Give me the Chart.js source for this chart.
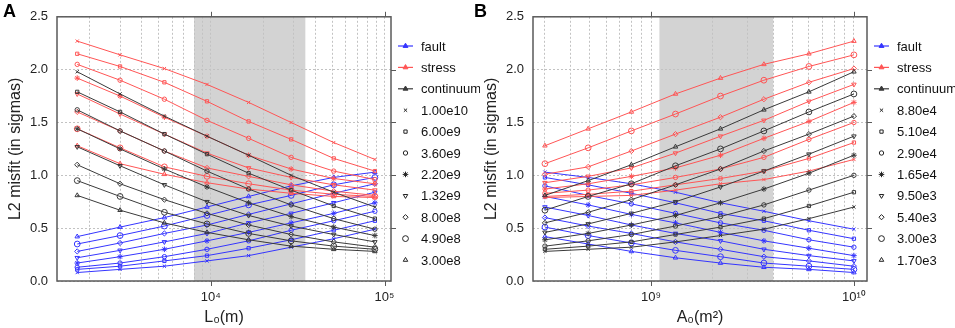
<!DOCTYPE html>
<html>
<head>
<meta charset="utf-8">
<title>L2 misfit</title>
<script src="https://cdn.jsdelivr.net/npm/chart.js@4.4.0/dist/chart.umd.min.js"></script>
<style>
    body { margin: 0; background: #fff; width: 955px; height: 328px; overflow: hidden; position: relative;
           font-family: "Liberation Sans", Arial, sans-serif; }
    .panel { position: absolute; top: 0; width: 480px; height: 328px; }
    .letter { position: absolute; top: 1px; font-weight: bold; font-size: 18px; color: #000; }
</style>
</head>
<body>
<div class="panel" style="left:0"><canvas id="chartA" width="480" height="328"></canvas></div>
<div class="panel" style="left:476px"><canvas id="chartB" width="480" height="328"></canvas></div>
<div class="letter" style="left:3px">A</div>
<div class="letter" style="left:474px">B</div>
<script>
"use strict"

// --------------------------------------------------------------------------------
// data: one misfit grid per model, rows = A0 index, columns = L0 index
let a0Values = [3.00e8, 4.90e8, 8.00e8, 1.32e9, 2.20e9, 3.60e9, 6.00e9, 1.00e10]
let a0Labels = ['3.00e8', '4.90e8', '8.00e8', '1.32e9', '2.20e9', '3.60e9', '6.00e9', '1.00e10']
let l0Values = [1.70e3, 3.00e3, 5.40e3, 9.50e3, 1.65e4, 2.90e4, 5.10e4, 8.80e4]
let l0Labels = ['1.70e3', '3.00e3', '5.40e3', '9.50e3', '1.65e4', '2.90e4', '5.10e4', '8.80e4']

let modelNames = ['fault', 'stress', 'continuum']

let faultMisfit = [
    [0.42, 0.51, 0.60, 0.70, 0.80, 0.90, 0.98, 1.03],
    [0.35, 0.43, 0.52, 0.62, 0.72, 0.81, 0.91, 0.98],
    [0.28, 0.36, 0.45, 0.53, 0.63, 0.73, 0.83, 0.92],
    [0.22, 0.29, 0.37, 0.45, 0.55, 0.64, 0.74, 0.84],
    [0.17, 0.23, 0.30, 0.38, 0.46, 0.55, 0.64, 0.74],
    [0.13, 0.17, 0.23, 0.30, 0.38, 0.48, 0.57, 0.66],
    [0.11, 0.14, 0.19, 0.24, 0.31, 0.39, 0.48, 0.57],
    [0.08, 0.11, 0.14, 0.19, 0.24, 0.32, 0.40, 0.49]
]
let stressMisfit = [
    [1.28, 1.11, 1.01, 0.93, 0.87, 0.83, 0.80, 0.79],
    [1.44, 1.26, 1.08, 0.99, 0.92, 0.86, 0.82, 0.80],
    [1.60, 1.42, 1.23, 1.07, 0.99, 0.91, 0.85, 0.81],
    [1.77, 1.58, 1.39, 1.21, 1.07, 0.98, 0.91, 0.86],
    [1.92, 1.75, 1.55, 1.37, 1.19, 1.06, 0.97, 0.92],
    [2.05, 1.90, 1.72, 1.52, 1.35, 1.17, 1.04, 0.96],
    [2.15, 2.03, 1.88, 1.70, 1.51, 1.34, 1.16, 1.04],
    [2.27, 2.14, 2.01, 1.86, 1.69, 1.50, 1.31, 1.15]
]
let continuumMisfit = [
    [0.81, 0.67, 0.55, 0.46, 0.39, 0.33, 0.30, 0.28],
    [0.95, 0.80, 0.65, 0.54, 0.45, 0.38, 0.33, 0.30],
    [1.10, 0.92, 0.77, 0.64, 0.53, 0.44, 0.37, 0.32],
    [1.27, 1.09, 0.91, 0.75, 0.62, 0.52, 0.44, 0.37],
    [1.44, 1.25, 1.06, 0.89, 0.74, 0.61, 0.51, 0.43],
    [1.62, 1.42, 1.23, 1.04, 0.87, 0.72, 0.59, 0.49],
    [1.79, 1.60, 1.39, 1.20, 1.02, 0.86, 0.71, 0.59],
    [1.98, 1.77, 1.56, 1.37, 1.19, 1.00, 0.84, 0.70]
]

// preferred ranges (shaded)
let bandA = [8.0e3, 3.5e4]
let bandB = [1.1e9, 4.0e9]

// --------------------------------------------------------------------------------
// styles
let modelColors = ['#3535ff', '#ff5555', '#3a3a3a']
let markerStyles = ['triangle', 'circle', 'rectRot', 'triangle', 'star', 'circle', 'rect', 'crossRot']
let markerRotation = [0, 0, 0, 180, 0, 0, 0, 0]
let markerRadius = [2.6, 2.9, 2.6, 2.6, 2.8, 2.2, 2.3, 2.3]
let fontFamily = '"Liberation Sans", Arial, sans-serif'

// log grid values (1..9 x 10^k) inside the axis range
function logGrid(min, max) {
    let vals = []
    for (let k = Math.floor(Math.log10(min)); k <= Math.ceil(Math.log10(max)); k++) {
        for (let m = 1; m <= 9; m++) {
            let v = m * Math.pow(10, k)
            if (v >= min && v <= max) vals.push(v)
        }
    }
    return vals
}

function isDecade(v) {
    let l = Math.log10(v)
    return Math.abs(l - Math.round(l)) < 1e-9
}

let supDigits = {'0': '⁰', '1': '¹', '2': '²', '3': '³', '4': '⁴', '5': '⁵', '6': '⁶', '7': '⁷', '8': '⁸', '9': '⁹'}
function powerLabel(v) {
    let e = String(Math.round(Math.log10(v)))
    return '10' + e.split('').map(c => supDigits[c]).join('')
}

// --------------------------------------------------------------------------------
// plugins: shaded band, frame, side legend
const bandPlugin = {
    id: 'band',
    beforeDraw(chart, args, opts) {
        let xs = chart.scales.x, area = chart.chartArea, ctx = chart.ctx
        let x1 = xs.getPixelForValue(opts.from)
        let x2 = xs.getPixelForValue(opts.to)
        ctx.save()
        ctx.fillStyle = '#d3d3d3'
        ctx.fillRect(x1, area.top, x2 - x1, area.bottom - area.top)
        ctx.restore()
    }
}

const framePlugin = {
    id: 'frame',
    afterDraw(chart) {
        let area = chart.chartArea, ctx = chart.ctx
        let xs = chart.scales.x, ys = chart.scales.y
        ctx.save()
        ctx.strokeStyle = '#5a5a5a'
        ctx.lineWidth = 1.5
        ctx.strokeRect(area.left, area.top, area.right - area.left, area.bottom - area.top)
        ctx.lineWidth = 1
        ctx.beginPath()
        xs.ticks.forEach(t => {
            if (!isDecade(t.value)) return
            let x = Math.round(xs.getPixelForValue(t.value)) + 0.5
            ctx.moveTo(x, area.bottom); ctx.lineTo(x, area.bottom + 5)
            ctx.moveTo(x, area.top); ctx.lineTo(x, area.top - 5)
        })
        for (let v = 0.5; v < 2.5; v += 0.5) {
            let y = Math.round(ys.getPixelForValue(v)) + 0.5
            ctx.moveTo(area.right, y); ctx.lineTo(area.right + 5, y)
        }
        ctx.stroke()
        ctx.restore()
    }
}

const sideLegendPlugin = {
    id: 'sideLegend',
    afterDraw(chart, args, opts) {
        let ctx = chart.ctx
        let x0 = chart.chartArea.right + 7
        let rowY = r => 46 + r * 21.4
        ctx.save()
        ctx.font = '13px ' + fontFamily
        ctx.textBaseline = 'middle'
        let row = 0
        for (let m = 0; m < modelNames.length; m++) {
            let y = rowY(row++)
            ctx.strokeStyle = modelColors[m]
            ctx.fillStyle = modelColors[m]
            ctx.lineWidth = 1.2
            ctx.beginPath(); ctx.moveTo(x0, y); ctx.lineTo(x0 + 15, y); ctx.stroke()
            ctx.lineWidth = 1
            Chart.helpers.drawPoint(ctx, {pointStyle: 'triangle', radius: 2.8, rotation: 0, borderWidth: 1}, x0 + 7.5, y)
            ctx.fillStyle = '#111'
            ctx.fillText(modelNames[m], x0 + 23, y + 1)
        }
        for (let k = opts.labels.length - 1; k >= 0; k--) {
            let y = rowY(row++)
            ctx.strokeStyle = '#222'
            ctx.fillStyle = markerStyles[k] === 'star' ? '#222' : 'rgba(0,0,0,0)'
            ctx.lineWidth = 1
            Chart.helpers.drawPoint(ctx, {pointStyle: markerStyles[k], radius: markerRadius[k],
                rotation: markerRotation[k], borderWidth: 1}, x0 + 7.5, y)
            ctx.fillStyle = '#111'
            ctx.fillText(opts.labels[k], x0 + 23, y + 1)
        }
        ctx.restore()
    }
}

// --------------------------------------------------------------------------------
// build the 24 series of one panel
function buildDatasets(xVals, seriesCount, valueAt) {
    let grids = [faultMisfit, stressMisfit, continuumMisfit]
    let sets = []
    // draw continuum first, fault on top
    for (let m = grids.length - 1; m >= 0; m--) {
        for (let k = 0; k < seriesCount; k++) {
            sets.push({
                label: modelNames[m] + ' ' + k,
                data: xVals.map((x, n) => ({x: x, y: valueAt(grids[m], k, n)})),
                borderColor: modelColors[m],
                borderWidth: 1,
                tension: 0,
                pointStyle: markerStyles[k],
                pointRotation: markerRotation[k],
                pointRadius: markerRadius[k],
                pointBorderWidth: 1,
                pointBorderColor: modelColors[m],
                pointBackgroundColor: markerStyles[k] === 'star' ? modelColors[m] : 'rgba(0,0,0,0)'
            })
        }
    }
    return sets
}

function makePanel(canvasId, xVals, xMin, xMax, xTitle, band, legendLabels, valueAt) {
    let grid = logGrid(xMin, xMax)
    let ctx = document.getElementById(canvasId).getContext('2d')
    return new Chart(ctx, {
        type: 'line',
        data: {datasets: buildDatasets(xVals, legendLabels.length, valueAt)},
        plugins: [bandPlugin, framePlugin, sideLegendPlugin],
        options: {
            responsive: false,
            animation: false,
            devicePixelRatio: 1,
            events: [],
            layout: {padding: {left: 0, right: 89, top: 14, bottom: 0}},
            scales: {
                x: {
                    type: 'logarithmic',
                    min: xMin,
                    max: xMax,
                    afterBuildTicks: s => { s.ticks = grid.map(v => ({value: v})) },
                    afterFit: s => { s.height = 47 },
                    grid: {color: '#c2c2c2', lineWidth: 1, drawTicks: false},
                    border: {display: false, dash: [2, 2]},
                    ticks: {
                        autoSkip: false, maxRotation: 0, padding: 9, color: '#222',
                        font: {family: fontFamily, size: 13},
                        callback: v => isDecade(v) ? powerLabel(v) : ''
                    },
                    title: {display: true, text: xTitle, color: '#222',
                        font: {family: fontFamily, size: 16}, padding: {top: 0, bottom: 1}}
                },
                y: {
                    min: 0,
                    max: 2.5,
                    afterFit: s => { s.width = 57 },
                    grid: {color: '#c2c2c2', lineWidth: 1, drawTicks: false},
                    border: {display: false, dash: [2, 2]},
                    ticks: {
                        stepSize: 0.5, padding: 9, color: '#222',
                        font: {family: fontFamily, size: 13},
                        callback: v => v.toFixed(1)
                    },
                    title: {display: true, text: 'L2 misfit (in sigmas)', color: '#222',
                        font: {family: fontFamily, size: 16}, padding: {top: 6, bottom: 0}}
                }
            },
            plugins: {
                legend: {display: false},
                tooltip: {enabled: false},
                band: {from: band[0], to: band[1]},
                sideLegend: {labels: legendLabels}
            }
        }
    })
}

// --------------------------------------------------------------------------------
// panel A: x = L0, one series per A0 ; panel B: x = A0, one series per L0
makePanel('chartA', l0Values, 1300, 1.09e5, 'L₀(m)', bandA, a0Labels, (g, k, n) => g[k][n])
makePanel('chartB', a0Values, 2.62e8, 1.16e10, 'A₀(m²)', bandB, l0Labels, (g, k, n) => g[n][k])
</script>
</body>
</html>
